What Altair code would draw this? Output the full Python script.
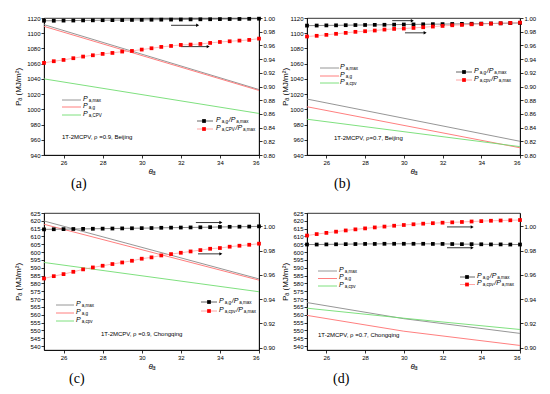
import altair as alt
import pandas as pd

FONT = "Liberation Sans"

# ---------------- data ----------------
THETA = [25.0, 25.5, 26.0, 26.5, 27.0, 27.5, 28.0, 28.5, 29.0, 29.5, 30.0, 30.5,
         31.0, 31.5, 32.0, 32.5, 33.0, 33.5, 34.0, 34.5, 35.0, 35.5, 36.0]
LINE_X = [25, 36]
LINE_X_D = [25, 30, 36]

# panel (a) Beijing rho=0.9
a_max = [1111.3, 1026.0]
a_g = [1109.0, 1024.8]
a_cpv = [1040.0, 994.6]
a_rg = [0.9960, 0.9960, 0.9962, 0.9963, 0.9965, 0.9966, 0.9968, 0.9969, 0.9970, 0.9972, 0.9973, 0.9975,
        0.9976, 0.9977, 0.9978, 0.9980, 0.9981, 0.9982, 0.9984, 0.9985, 0.9986, 0.9988, 0.9990]
a_rcpv = [0.9345, 0.9369, 0.9388, 0.9413, 0.9437, 0.9456, 0.9476, 0.9490, 0.9510, 0.9519, 0.9539, 0.9558,
          0.9578, 0.9592, 0.9607, 0.9612, 0.9621, 0.9636, 0.9650, 0.9660, 0.9670, 0.9680, 0.9699]

# panel (b) Beijing rho=0.7
b_max = [1013.5, 958.0]
b_g = [1003.4, 949.5]
b_cpv = [987.0, 951.0]
b_rg = [0.9889, 0.9890, 0.9892, 0.9893, 0.9895, 0.9897, 0.9898, 0.9900, 0.9901, 0.9903, 0.9905, 0.9906,
        0.9908, 0.9910, 0.9911, 0.9913, 0.9914, 0.9916, 0.9918, 0.9920, 0.9922, 0.9925, 0.9928]
b_rcpv = [0.9730, 0.9740, 0.9754, 0.9769, 0.9783, 0.9798, 0.9807, 0.9817, 0.9831, 0.9841, 0.9846, 0.9855,
          0.9865, 0.9875, 0.9884, 0.9894, 0.9899, 0.9908, 0.9913, 0.9918, 0.9923, 0.9928, 0.9933]

# panel (c) Chongqing rho=0.9
c_max = [619.9, 582.9]
c_g = [617.8, 582.1]
c_cpv = [593.4, 574.7]
c_rg = [0.9975, 0.9976, 0.9977, 0.9978, 0.9979, 0.9980, 0.9981, 0.9982, 0.9983, 0.9984, 0.9985, 0.9986,
        0.9988, 0.9989, 0.9990, 0.9991, 0.9992, 0.9993, 0.9995, 0.9996, 0.9997, 0.9998, 1.0000]
c_rcpv = [0.9570, 0.9589, 0.9606, 0.9625, 0.9645, 0.9661, 0.9675, 0.9689, 0.9702, 0.9716, 0.9733, 0.9744,
          0.9760, 0.9771, 0.9782, 0.9793, 0.9804, 0.9815, 0.9821, 0.9832, 0.9840, 0.9848, 0.9857]

# panel (d) Chongqing rho=0.7
d_max = [567.8, 557.5, 548.1]
d_g = [559.6, 549.5, 540.4]
d_cpv = [564.2, 557.8, 550.6]
d_rg = [0.9850, 0.9850, 0.9851, 0.9852, 0.9853, 0.9854, 0.9855, 0.9855, 0.9856, 0.9856, 0.9856, 0.9856,
        0.9856, 0.9855, 0.9855, 0.9854, 0.9853, 0.9853, 0.9852, 0.9851, 0.9851, 0.9850, 0.9850]
d_rcpv = [0.9924, 0.9936, 0.9946, 0.9956, 0.9966, 0.9975, 0.9983, 0.9991, 0.9998, 1.0005, 1.0011, 1.0017,
          1.0022, 1.0026, 1.0030, 1.0033, 1.0036, 1.0040, 1.0043, 1.0046, 1.0048, 1.0050, 1.0052]

X_TICKS = [26, 28, 30, 32, 34, 36]
Y_TICKS_BJ = [940, 960, 980, 1000, 1020, 1040, 1060, 1080, 1100, 1120]
Y_TICKS_CQ = [540, 545, 550, 555, 560, 565, 570, 575, 580, 585, 590, 595, 600, 605, 610, 615, 620, 625]
R_TICKS_BJ = [0.80, 0.82, 0.84, 0.86, 0.88, 0.90, 0.92, 0.94, 0.96, 0.98, 1.00]
R_TICKS_CQ = [0.90, 0.92, 0.94, 0.96, 0.98, 1.00]

C_MAX = "#8a8a8a"
C_G = "#ff7070"
C_CPV = "#70dd70"
C_RED_PT = "#ff0000"
C_RED_LN = "#ff9a9a"

W_ARIAL = {"P": .667, "a": .556, ",": .278, "m": .833, "x": .5, "g": .556, "C": .722,
           "V": .667, "c": .5, "p": .556, "v": .5, "/": .278}


def tw(s, size):
    return sum(W_ARIAL.get(ch, .556) for ch in s) * size


def txt(t, x, y, size, style="normal", align="left"):
    return alt.Chart(pd.DataFrame({"t": [t]})).mark_text(
        align=align, baseline="middle", fontSize=size, font=FONT, fontStyle=style, color="black"
    ).encode(x=alt.value(x), y=alt.value(y), text="t:N")


def rich(segs, x0, y0):
    out = []
    x = x0
    for t, kind in segs:
        if kind == "m":
            out.append(txt(t, x, y0, 7, "italic"))
            x += tw(t, 7) + 1.0
        else:
            out.append(txt(t, x, y0 + 2.0, 4.5))
            x += tw(t, 4.5) + 0.8
    return out


def seg(x1, x2, y, color):
    return alt.Chart(pd.DataFrame({"k": [0]})).mark_rule(color=color, strokeWidth=0.9).encode(
        x=alt.value(x1), x2=alt.value(x2), y=alt.value(y))


def sq(x, y, color):
    return alt.Chart(pd.DataFrame({"k": [0]})).mark_square(color=color, size=14, opacity=1).encode(
        x=alt.value(x), y=alt.value(y))


def panel(tag, lx, lmax, lg, lcpv, rg, rcpv, ydom, yticks, rdom, rticks, arrows,
          leg_left, leg_right, note, cpv_sub, first_col, width, title_dx):
    xenc = alt.X("x:Q", scale=alt.Scale(domain=[25, 36], nice=False, zero=False),
                 axis=alt.Axis(values=X_TICKS, format="d", title="θₐ", titleFontStyle="italic",
                               titlePadding=2))
    yenc = alt.Y("v:Q", scale=alt.Scale(domain=ydom, nice=False, zero=False),
                 axis=alt.Axis(values=yticks, format="d", title="Pₐ (MJ/m²)", orient="left",
                               minExtent=17, maxExtent=17, titlePadding=5 if first_col else 1))
    renc = alt.Y("r:Q", scale=alt.Scale(domain=rdom, nice=False, zero=False),
                 axis=alt.Axis(values=rticks, format=".2f", title=None, orient="right",
                               minExtent=17, maxExtent=17))

    left_layers = []
    for vals, col in ((lmax, C_MAX), (lg, C_G), (lcpv, C_CPV)):
        df = pd.DataFrame({"x": lx, "v": vals})
        left_layers.append(alt.Chart(df).mark_line(color=col, strokeWidth=0.9).encode(x=xenc, y=yenc))
    for (x1, x2, yv) in arrows:
        df = pd.DataFrame({"x": [x1], "x2": [x2], "v": [yv]})
        left_layers.append(alt.Chart(df).mark_rule(color="black", strokeWidth=0.8).encode(
            x=xenc, x2="x2:Q", y=yenc))
        df2 = pd.DataFrame({"x": [x2], "v": [yv]})
        left_layers.append(alt.Chart(df2).mark_point(shape="triangle-right", filled=True, color="black",
                                                     size=12, opacity=1).encode(x=xenc, y=yenc))
    left = alt.layer(*left_layers)

    dg = pd.DataFrame({"x": THETA, "r": rg})
    dc = pd.DataFrame({"x": THETA, "r": rcpv})
    right = alt.layer(
        alt.Chart(dg).mark_line(color="#555555", strokeWidth=0.7).encode(x=xenc, y=renc),
        alt.Chart(dc).mark_line(color=C_RED_LN, strokeWidth=0.7).encode(x=xenc, y=renc),
        alt.Chart(dg).mark_square(color="black", size=14, opacity=1).encode(x=xenc, y=renc),
        alt.Chart(dc).mark_square(color=C_RED_PT, size=14, opacity=1).encode(x=xenc, y=renc),
    )

    extra = []
    x1, x2, ys, tx = leg_left
    for (sub, col), yy in zip((("a,max", C_MAX), ("a,g", C_G), (cpv_sub, C_CPV)), ys):
        extra.append(seg(x1, x2, yy, col))
        extra += rich([("P", "m"), (sub, "s")], tx, yy - 1.5)
    x1, x2, xm, ys, tx = leg_right
    for (sub, lc, pc), yy in zip((("a,g", "#555555", "black"), (cpv_sub, C_RED_LN, C_RED_PT)), ys):
        extra.append(seg(x1, x2, yy, lc))
        extra.append(sq(xm, yy, pc))
        extra += rich([("P", "m"), (sub, "s"), ("/P", "m"), ("a,max", "s")], tx, yy - 1.5)
    nx, ny, ntext = note
    extra.append(txt(ntext, nx, ny, 6))

    return alt.layer(left, right, *extra).resolve_scale(y="independent").properties(
        width=width, height=137,
        title=alt.TitleParams(text=tag, orient="bottom", anchor="start", frame="group", dx=title_dx,
                              fontSize=14, font="Liberation Serif", fontWeight="normal", offset=2,
                              color="black"))


pa = panel("(a)", LINE_X, a_max, a_g, a_cpv, a_rg, a_rcpv, [940, 1120], Y_TICKS_BJ, [0.80, 1.00], R_TICKS_BJ,
           [(31.5, 32.86, 1110.4), (32.0, 33.4, 1082.4)],
           (18, 37, [82, 89, 97], 39), (153, 169, 160, [103, 111], 172),
           (18, 119, "1T-2MCPV, ρ =0.9, Beijing"), "a,CPV", True, 215, 27)
pb = panel("(b)", LINE_X, b_max, b_g, b_cpv, b_rg, b_rcpv, [940, 1120], Y_TICKS_BJ, [0.80, 1.00], R_TICKS_BJ,
           [(29.4, 30.44, 1116.5), (30.06, 31.1, 1100.5)],
           (13, 32, [50, 58, 65], 33), (149, 165, 157, [54, 62], 167),
           (27, 120, "1T-2MCPV,  ρ=0.7, Beijing"), "a,cpv", False, 213, 27)
pc = panel("(c)", LINE_X, c_max, c_g, c_cpv, c_rg, c_rcpv, [537.5, 625], Y_TICKS_CQ, [0.898, 1.011], R_TICKS_CQ,
           [(32.77, 34.05, 618.9), (32.88, 34.05, 598.9)],
           (12, 30, [92, 100, 108], 32), (157, 173, 165, [89, 98], 175),
           (57, 121, "1T-2MCPV, ρ =0.9, Chongqing"), "a,cpv", True, 215, 25)
pd_ = panel("(d)", LINE_X_D, d_max, d_g, d_cpv, d_rg, d_rcpv, [537.5, 625], Y_TICKS_CQ, [0.898, 1.011], R_TICKS_CQ,
            [(32.23, 33.53, 616.1), (32.23, 33.53, 602.8)],
            (11, 30, [58, 65.5, 73], 32), (153, 168, 160, [64, 71.5], 170),
            (11, 122, "1T-2MCPV, ρ =0.7, Chongqing"), "a,cpv", False, 213, 26)

row1 = alt.hconcat(pa, pb, spacing=3)
row2 = alt.hconcat(pc, pd_, spacing=3)
chart = alt.vconcat(row1, row2, spacing=17).properties(
    padding={"left": 5, "top": 6, "right": 0, "bottom": 0}
).configure_view(stroke="black", strokeWidth=0.8).configure_axis(
    labelFont=FONT, titleFont=FONT, labelFontSize=6, titleFontSize=8, tickSize=3, labelPadding=1,
    domainColor="black", tickColor="black", labelColor="black", titleColor="black", grid=False,
    domainWidth=0.8, tickWidth=0.8, titleFontWeight="normal"
)

chart.save("out.html", embed_options={"renderer": "svg", "actions": False})
